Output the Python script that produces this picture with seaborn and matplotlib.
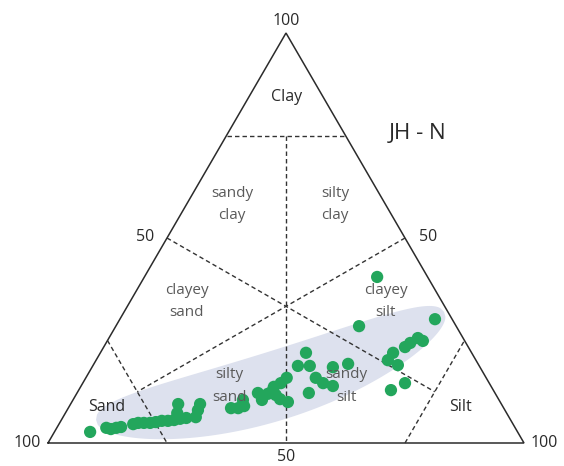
import numpy as np
import pandas as pd
import matplotlib
matplotlib.use("Agg")
import matplotlib.pyplot as plt
import seaborn as sns
from matplotlib.patches import Polygon

# Grain-size composition of the JH - N samples (percent)
sand = [89.8, 85.9, 85.1, 83.8, 82.7, 79.8, 78.6, 77.4, 76.1, 74.8,
        73.4, 72.1, 70.7, 69.3, 67.9, 69.2, 67.9, 63.3, 64.5, 65.8,
        57.3, 55.8, 54.3, 53.8, 49.8, 49.8, 47.8, 45.7, 46.3, 43.8,
        41.9, 45.9, 44.6, 46.3, 38.1, 34.8, 35.6, 35.8, 34.9, 33.2,
        30.9, 27.3, 39.1, 20.4, 10.6, 18.5, 16.5, 17.0, 13.3, 11.7,
        9.5, 8.8, 3.6, 17.7, 21.5]
silt = [7.5, 10.4, 11.5, 12.5, 13.4, 15.6, 16.5, 17.7, 19.0, 20.1,
        21.2, 22.5, 23.7, 24.8, 22.6, 23.5, 26.0, 27.2, 27.5, 27.9,
        34.2, 35.7, 36.7, 35.7, 38.0, 39.7, 40.2, 40.6, 42.0, 41.6,
        42.2, 43.4, 45.4, 40.8, 43.1, 43.2, 45.6, 48.3, 50.5, 52.9,
        50.6, 53.4, 48.7, 51.1, 48.9, 61.3, 61.5, 64.0, 63.3, 63.9,
        64.9, 66.3, 66.2, 67.7, 65.6]
clay = [2.7, 3.7, 3.4, 3.7, 3.9, 4.6, 4.9, 4.9, 4.9, 5.1,
        5.4, 5.4, 5.6, 5.9, 9.5, 7.3, 6.1, 9.5, 8.0, 6.3,
        8.5, 8.5, 9.0, 10.5, 12.2, 10.5, 12.0, 13.7, 11.7, 14.6,
        15.9, 10.7, 10.0, 12.9, 18.8, 22.0, 18.8, 15.9, 14.6, 13.9,
        18.5, 19.3, 12.2, 28.5, 40.5, 20.2, 22.0, 19.0, 23.4, 24.4,
        25.6, 24.9, 30.2, 14.6, 12.9]

# Shepard classes: label and the (sand, silt, clay) point where it sits
class_labels = ["Clay", "sandy\nclay", "silty\nclay", "clayey\nsand",
                "clayey\nsilt", "silty\nsand", "sandy\nsilt", "Sand", "Silt"]
class_sand = [7.6, 32.3, 10.6, 53.5, 11.7, 54.9, 30.4, 83.2, 9.0]
class_silt = [8.0, 9.6, 31.3, 11.9, 53.7, 31.2, 55.7, 8.0, 82.2]
class_clay = [84.4, 58.1, 58.1, 34.6, 34.6, 13.9, 13.9, 8.8, 8.8]
class_major = ["Clay", "Sand", "Silt"]

# Class boundaries as (sand, silt, clay) start/end pairs
boundaries = [
    ((25, 0, 75), (0, 25, 75)),          # clay corner
    ((12.5, 12.5, 75), (50, 50, 0)),     # sandy / silty split
    ((50, 0, 50), (12.5, 75, 12.5)),     # from clay-sand midpoint
    ((0, 50, 50), (75, 12.5, 12.5)),     # from clay-silt midpoint
    ((75, 0, 25), (75, 25, 0)),          # sand corner
    ((25, 75, 0), (0, 75, 25)),          # silt corner
]

H = np.sqrt(3) / 2


def to_xy(sa, si, cl):
    sa, si, cl = (np.asarray(v, dtype=float) for v in (sa, si, cl))
    tot = sa + si + cl
    si, cl = si / tot, cl / tot
    return si + cl / 2, cl * H


sns.set_style("white")
plt.rcParams["font.family"] = ["Open Sans", "DejaVu Sans"]

fig = plt.figure(figsize=(5.64, 4.66), dpi=100)
ax = fig.add_axes([0, 0, 1, 1])
ax.set_xlim(-48 / 476, 516 / 476)
ax.set_ylim(-23 / 473.4, 443 / 473.4)
ax.axis("off")

# Sample envelope: a bent, tapered band along the sample trend
P0 = np.array([0.101, 0.049])
P1 = np.array([0.487, 0.078])
P2 = np.array([0.832, 0.277])
t = np.linspace(0, 1, 300)[:, None]
centre = (1 - t) ** 2 * P0 + 2 * t * (1 - t) * P1 + t ** 2 * P2
deriv = 2 * (1 - t) * (P1 - P0) + 2 * t * (P2 - P1)
normal = np.column_stack([-deriv[:, 1], deriv[:, 0]])
normal /= np.linalg.norm(normal, axis=1, keepdims=True)
half = 0.073 * (1 - (2 * t[:, 0] - 1) ** 2) ** 0.45
upper = centre + normal * half[:, None]
lower = centre - normal * half[:, None]
band = Polygon(np.vstack([upper, lower[::-1]]), closed=True,
               facecolor="#dde1ee", edgecolor="none", zorder=1)
ax.add_patch(band)

# Triangle outline
vx, vy = to_xy([100, 0, 0, 100], [0, 100, 0, 0], [0, 0, 100, 0])
ax.plot(vx, vy, color="#2b2b2b", lw=1.1, zorder=2, solid_joinstyle="miter")

# Class boundaries
for a, b in boundaries:
    bx, by = to_xy(*zip(a, b))
    ax.plot(bx, by, color="#333333", lw=1.0, ls=(0, (3.2, 2.2)), zorder=2)

# Samples
px, py = to_xy(sand, silt, clay)
df = pd.DataFrame({"x": px, "y": py})
sns.scatterplot(data=df, x="x", y="y", color="#23a65c", s=78,
                edgecolor="none", linewidth=0, legend=False, ax=ax, zorder=3)
ax.set_xlabel("")
ax.set_ylabel("")

# Class names
lx, ly = to_xy(class_sand, class_silt, class_clay)
for lab, x, y in zip(class_labels, lx, ly):
    major = lab in class_major
    ax.text(x, y, lab, ha="center", va="center",
            fontsize=11.5 if major else 11,
            color="#2a2a2a" if major else "#5a5a5a",
            linespacing=1.65, zorder=4)

# Edge values
tick_kw = dict(fontsize=11.5, color="#2a2a2a", textcoords="offset points",
               zorder=4)
tx, ty = to_xy([0], [0], [100])
ax.annotate("100", (tx[0], ty[0]), xytext=(0, 3), ha="center", va="bottom", **tick_kw)
tx, ty = to_xy([100], [0], [0])
ax.annotate("100", (tx[0], ty[0]), xytext=(-5, 0), ha="right", va="center", **tick_kw)
tx, ty = to_xy([0], [100], [0])
ax.annotate("100", (tx[0], ty[0]), xytext=(5, 0), ha="left", va="center", **tick_kw)
tx, ty = to_xy([50], [50], [0])
ax.annotate("50", (tx[0], ty[0]), xytext=(0, -4.5), ha="center", va="top", **tick_kw)
tx, ty = to_xy([50], [0], [50])
ax.annotate("50", (tx[0], ty[0]), xytext=(-9, 1), ha="right", va="center", **tick_kw)
tx, ty = to_xy([0], [50], [50])
ax.annotate("50", (tx[0], ty[0]), xytext=(10, 1), ha="left", va="center", **tick_kw)

# Site name
ax.text(0.777, 0.653, "JH - N", ha="center", va="center", fontsize=16,
        color="#2a2a2a", zorder=4)

fig.savefig("out.png", dpi=100)
